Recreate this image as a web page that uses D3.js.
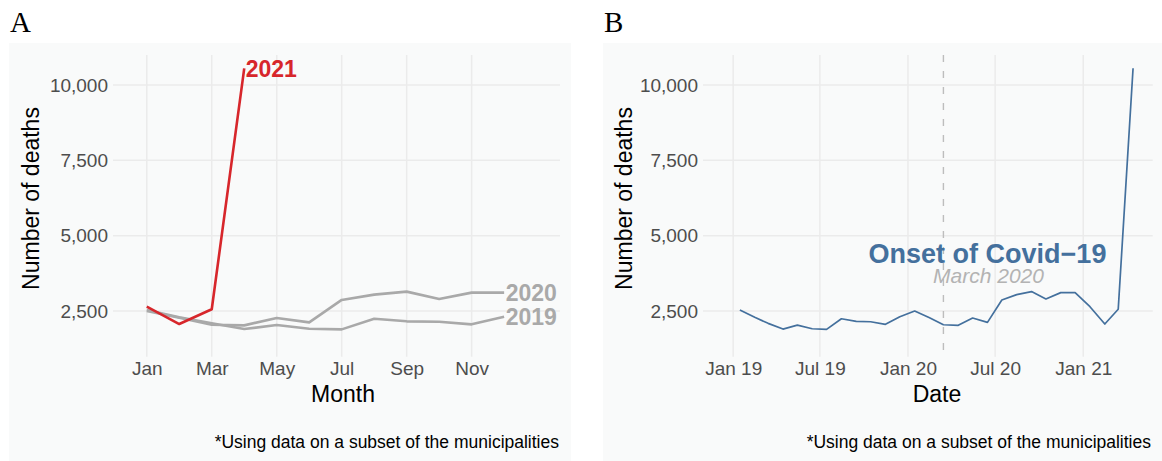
<!DOCTYPE html>
<html lang="en">
<head>
  <meta charset="utf-8">
  <title>Deaths</title>
  <script src="https://d3js.org/d3.v7.min.js" charset="utf-8"></script>
  <style type="text/css">
    body { margin: 0; background: #fff; }
    text { font-family: "Liberation Sans", Arial, sans-serif; }
  </style>
</head>
<body>
  <script type="text/javascript">
    // monthly deaths (subset of municipalities)
    var monthLabels = ["Jan", "Feb", "Mar", "Apr", "May", "Jun", "Jul", "Aug", "Sep", "Oct", "Nov", "Dec"];
    var deaths2019 = [2533, 2290, 2090, 1900, 2033, 1910, 1890, 2243, 2157, 2143, 2057, 2310];
    var deaths2020 = [2500, 2277, 2043, 2023, 2267, 2123, 2867, 3043, 3143, 2900, 3110, 3110];
    var deaths2021 = [2643, 2067, 2557, 10554];
    var yTicks = [2500, 5000, 7500, 10000];
    var dateTicks = ["2019-01-01", "2019-07-01", "2020-01-01", "2020-07-01", "2021-01-01"];
    var onsetDate = "2020-03-15";
    var caption = "*Using data on a subset of the municipalities";

    var width = 1162, height = 461;
    var svg = d3.select("body").append("svg")
      .attr("width", width)
      .attr("height", height);

    var gridColor = "#ebebeb", panelBg = "#f9fafa", tickColor = "#4d4d4d";
    var plotTop = 55, plotBottom = 356.7;

    var y = d3.scaleLinear().domain([983, 10996]).range([plotBottom, plotTop]);

    function drawPanel(opt) {
      var g = svg.append("g");
      g.append("rect")
        .attr("x", opt.bgX).attr("y", 43)
        .attr("width", opt.bgW).attr("height", height - 43)
        .attr("fill", panelBg);

      g.append("text")
        .attr("x", opt.bgX + 1).attr("y", 32)
        .style("font-family", "'Liberation Serif', 'DejaVu Serif', serif")
        .style("font-size", "29px")
        .text(opt.letter);

      var x = opt.x;
      var left = x.range()[0], right = x.range()[1];

      g.selectAll(".hgrid").data(yTicks).enter().append("line")
        .attr("x1", left).attr("x2", right)
        .attr("y1", d => y(d)).attr("y2", d => y(d))
        .attr("stroke", gridColor).attr("stroke-width", 1.5);

      g.selectAll(".vgrid").data(opt.xTicks).enter().append("line")
        .attr("x1", d => x(d)).attr("x2", d => x(d))
        .attr("y1", plotTop).attr("y2", plotBottom)
        .attr("stroke", gridColor).attr("stroke-width", 1.5);

      var xAxis = g.append("g")
        .attr("transform", "translate(0," + plotBottom + ")")
        .call(d3.axisBottom(x).tickValues(opt.xTicks).tickFormat(opt.xFormat).tickSize(0).tickPadding(5));
      var yAxis = g.append("g")
        .attr("transform", "translate(" + left + ",0)")
        .call(d3.axisLeft(y).tickValues(yTicks).tickFormat(d3.format(",")).tickSize(0).tickPadding(5));
      [xAxis, yAxis].forEach(function (a) {
        a.select(".domain").remove();
        a.selectAll("text")
          .attr("fill", tickColor)
          .style("font-size", "19px")
          .style("font-family", "'Liberation Sans', Arial, sans-serif");
      });

      g.append("text")
        .attr("transform", "translate(" + opt.yTitleX + ",198.5) rotate(-90)")
        .attr("text-anchor", "middle")
        .style("font-size", "23px")
        .text("Number of deaths");

      g.append("text")
        .attr("x", opt.xTitleX).attr("y", 401.7)
        .attr("text-anchor", "middle")
        .style("font-size", "23px")
        .text(opt.xTitle);

      g.append("text")
        .attr("x", opt.capX).attr("y", 448.3)
        .attr("text-anchor", "end")
        .style("font-size", "17.5px")
        .text(caption);

      return g;
    }

    // ---- Panel A ----
    var xA = d3.scaleLinear().domain([-0.04, 13.72]).range([113, 560]);
    var gA = drawPanel({
      letter: "A", bgX: 9, bgW: 562, x: xA,
      xTicks: [1, 3, 5, 7, 9, 11],
      xFormat: d => monthLabels[d - 1],
      yTitleX: 39, xTitleX: 343, xTitle: "Month", capX: 559
    });

    var lineA = d3.line().x((d, i) => xA(i + 1)).y(d => y(d));
    var seriesA = [
      { name: "2019", values: deaths2019, color: "#a9a9a9" },
      { name: "2020", values: deaths2020, color: "#a9a9a9" },
      { name: "2021", values: deaths2021, color: "#d7262b" }
    ];
    seriesA.forEach(function (s) {
      gA.append("path")
        .datum(s.values)
        .attr("d", lineA)
        .attr("fill", "none")
        .attr("stroke", s.color)
        .attr("stroke-width", 2.6)
        .attr("stroke-linejoin", "round");
      var n = s.values.length;
      gA.append("text")
        .attr("x", xA(n) + 1.5)
        .attr("y", y(s.values[n - 1]))
        .attr("dy", "0.36em")
        .attr("fill", s.color)
        .style("font-size", "23px")
        .style("font-weight", "bold")
        .text(s.name);
    });

    // ---- Panel B ----
    var xB = d3.scaleUtc()
      .domain([new Date(Date.UTC(2018, 9, 30)), new Date(Date.UTC(2021, 4, 26))])
      .range([703, 1152.7]);
    var gB = drawPanel({
      letter: "B", bgX: 603, bgW: 559, x: xB,
      xTicks: dateTicks.map(d => new Date(d)),
      xFormat: d3.utcFormat("%b %y"),
      yTitleX: 632, xTitleX: 937, xTitle: "Date", capX: 1151
    });

    var allDeaths = deaths2019.concat(deaths2020, deaths2021);
    var lineB = d3.line()
      .x((d, i) => xB(new Date(Date.UTC(2019, i, 15))))
      .y(d => y(d));

    var onset = xB(new Date(onsetDate));
    gB.append("line")
      .attr("x1", onset).attr("x2", onset)
      .attr("y1", plotTop).attr("y2", plotBottom)
      .attr("stroke", "#bdbdbd")
      .attr("stroke-width", 1.4)
      .attr("stroke-dasharray", "7,9");

    gB.append("path")
      .datum(allDeaths)
      .attr("d", lineB)
      .attr("fill", "none")
      .attr("stroke", "#44709d")
      .attr("stroke-width", 1.7)
      .attr("stroke-linejoin", "round");

    gB.append("text")
      .attr("x", 987.5).attr("y", 263.3)
      .attr("text-anchor", "middle")
      .attr("fill", "#44709d")
      .style("font-size", "27px")
      .style("font-weight", "bold")
      .text("Onset of Covid\u221219");

    gB.append("text")
      .attr("x", 988.5).attr("y", 283.3)
      .attr("text-anchor", "middle")
      .attr("fill", "#b3b3b3")
      .style("font-size", "21px")
      .style("font-style", "italic")
      .text("March 2020");
  </script>
</body>
</html>
